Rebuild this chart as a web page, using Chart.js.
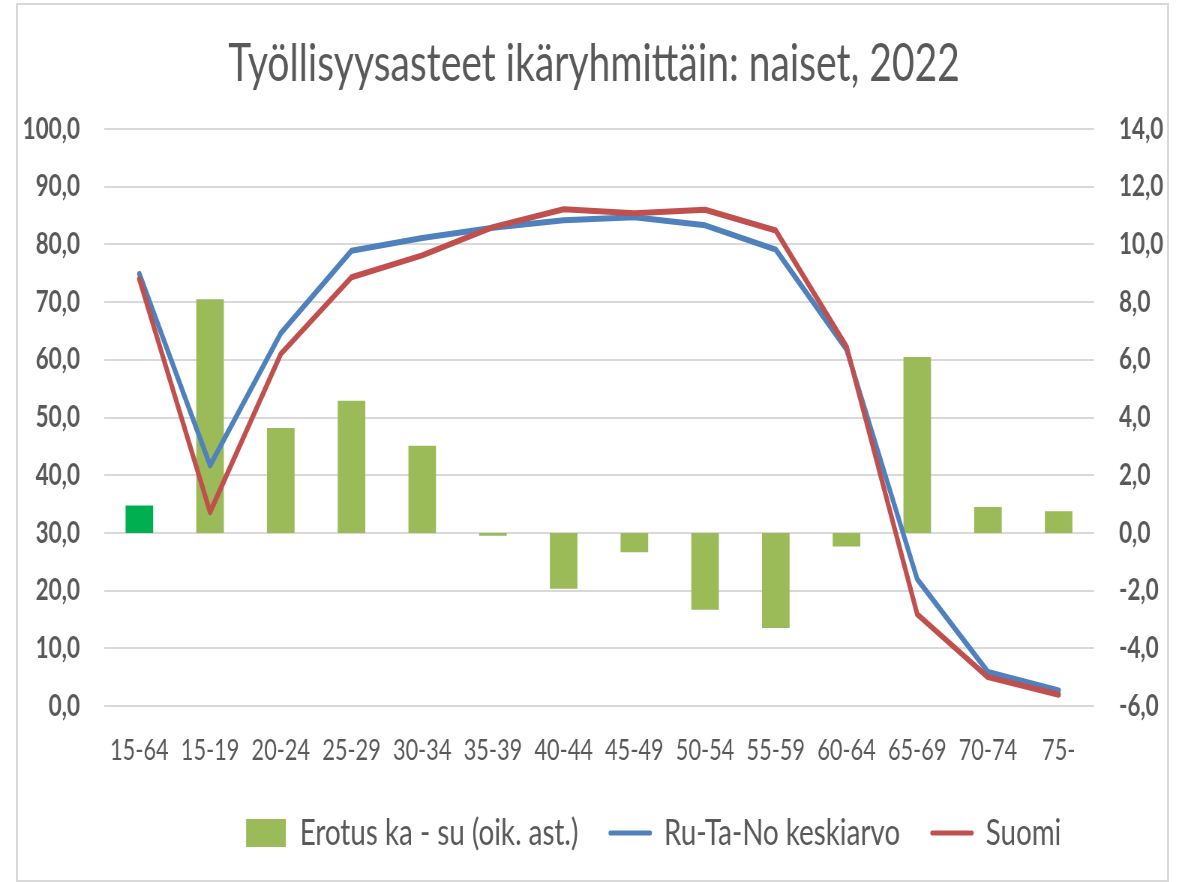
<!DOCTYPE html>
<html>
<head>
<meta charset="utf-8">
<script src="https://cdn.jsdelivr.net/npm/chart.js@4/dist/chart.umd.min.js"></script>
<style>
  html, body { margin: 0; padding: 0; background: #ffffff; overflow: hidden; }
  /* The reference is a horizontally condensed rendering (Calibri-like text);
     the chart is laid out at 1584px and condensed to 1188px. */
  #wrap { position: absolute; left: 0; top: 0; width: 1584px; height: 882px;
          transform: scaleX(0.75); transform-origin: 0 0; }
  #frame { position: absolute; left: 16px; top: 3px; width: 1153px; height: 879px;
           border: 2px solid #d9d9d9; box-sizing: border-box; pointer-events: none; }
</style>
</head>
<body>
<div id="wrap"><canvas id="c"></canvas></div>
<div id="frame"></div>
<script>
const categories = ['15-64','15-19','20-24','25-29','30-34','35-39','40-44','45-49','50-54','55-59','60-64','65-69','70-74','75-'];
const erotus = [0.95, 8.1, 3.64, 4.58, 3.02, -0.1, -1.94, -0.67, -2.66, -3.3, -0.47, 6.1, 0.9, 0.75];
const ruTaNo = [74.9, 41.7, 64.6, 78.9, 81.1, 82.9, 84.2, 84.7, 83.3, 79.1, 61.8, 22.0, 5.9, 2.7];
const suomi = [74.0, 33.6, 61.0, 74.3, 78.1, 83.0, 86.1, 85.4, 86.0, 82.4, 62.3, 15.9, 5.0, 1.95];
const seriesNames = ['Erotus ka - su (oik. ast.)', 'Ru-Ta-No keskiarvo', 'Suomi'];
const titleText = 'Työllisyysasteet ikäryhmittäin: naiset, 2022';

const FONT = "Lato, 'Liberation Sans', sans-serif";
const TXT = '#595959';
const GREEN = '#9bbb59', GREEN_DARK = '#00b050', BLUE = '#4f81bd', RED = '#c0504d';
const fmt = v => Number(v).toFixed(1).replace('.', ',');

const barColors = erotus.map((v, i) => i === 0 ? GREEN_DARK : GREEN);

// keep the right-aligned legend on one row (avoids float rounding wrap)
const legendRowFix = {
  id: 'legendRowFix',
  afterLayout(chart) {
    const lg = chart.legend;
    if (lg && lg.lineWidths && lg.lineWidths.length) lg.lineWidths[0] += 1;
  }
};

new Chart(document.getElementById('c'), {
  data: {
    labels: categories,
    datasets: [
      { type: 'bar', label: seriesNames[0], data: erotus, yAxisID: 'y1', order: 2,
        backgroundColor: barColors, borderWidth: 0,
        barPercentage: 1.0, categoryPercentage: 0.39 },
      { type: 'line', label: seriesNames[1], data: ruTaNo, yAxisID: 'y', order: 1,
        borderColor: BLUE, backgroundColor: BLUE, borderWidth: 6, pointRadius: 0,
        borderJoinStyle: 'round', borderCapStyle: 'round', tension: 0, fill: false },
      { type: 'line', label: seriesNames[2], data: suomi, yAxisID: 'y', order: 0,
        borderColor: RED, backgroundColor: RED, borderWidth: 6, pointRadius: 0,
        borderJoinStyle: 'round', borderCapStyle: 'round', tension: 0, fill: false }
    ]
  },
  plugins: [legendRowFix],
  options: {
    responsive: true,
    maintainAspectRatio: false,
    devicePixelRatio: 1,
    animation: false,
    layout: { padding: { top: 0, left: 0, right: 0, bottom: 20.5 } },
    plugins: {
      tooltip: { enabled: false },
      title: {
        display: true, text: titleText, color: TXT,
        font: { family: FONT, size: 52, weight: 'normal' },
        padding: { top: 32.8, bottom: 33.8 }
      },
      legend: {
        display: true, position: 'bottom', align: 'end', fullSize: false,
        labels: {
          color: TXT, font: { family: FONT, size: 37 },
          usePointStyle: true, pointStyleWidth: 53, boxHeight: 28, padding: 42.7,
          generateLabels: (chart) => [
            { text: seriesNames[0], fillStyle: GREEN, strokeStyle: GREEN, lineWidth: 0,
              pointStyle: 'rect', datasetIndex: 0, hidden: false, fontColor: TXT },
            { text: seriesNames[1], fillStyle: BLUE, strokeStyle: BLUE, lineWidth: 5,
              pointStyle: 'line', lineCap: 'round', datasetIndex: 1, hidden: false, fontColor: TXT },
            { text: seriesNames[2], fillStyle: RED, strokeStyle: RED, lineWidth: 5,
              pointStyle: 'line', lineCap: 'round', datasetIndex: 2, hidden: false, fontColor: TXT }
          ]
        }
      }
    },
    scales: {
      x: {
        grid: { display: false, drawTicks: false },
        border: { display: false },
        ticks: { color: TXT, font: { family: FONT, size: 29 }, padding: 27.6, maxRotation: 0, autoSkip: false },
        afterFit: (s) => { s.height = 65.8; }
      },
      y: {
        position: 'left', min: 0, max: 100,
        grid: { color: '#d9d9d9', lineWidth: 2, drawTicks: false },
        border: { display: false },
        ticks: { stepSize: 10, color: TXT, font: { family: FONT, size: 30, weight: 'bold' },
                 padding: 32, callback: v => fmt(v) },
        afterFit: (s) => { s.width = 138.67; }
      },
      y1: {
        position: 'right', min: -6, max: 14,
        grid: { display: false, drawTicks: false },
        border: { display: false },
        ticks: { stepSize: 2, color: TXT, font: { family: FONT, size: 30, weight: 'bold' },
                 padding: 33.3, callback: v => fmt(v) },
        afterFit: (s) => { s.width = 125.33; }
      }
    }
  }
});
</script>
</body>
</html>
